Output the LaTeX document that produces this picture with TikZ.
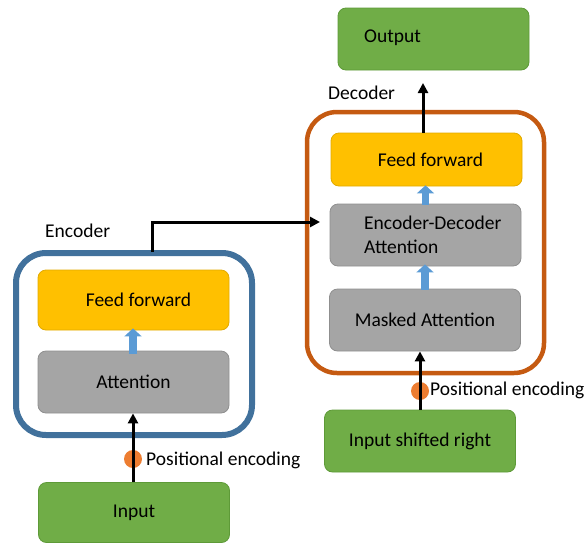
\documentclass[tikz,border=0pt]{standalone}
\usepackage{fontspec}
\setmainfont{Carlito}
\usetikzlibrary{arrows.meta}
\definecolor{ffyellow}{HTML}{FFC000}
\definecolor{ffedge}{HTML}{E2AA00}
\definecolor{attgray}{HTML}{A5A5A5}
\definecolor{attedge}{HTML}{8F8F8F}
\definecolor{iogreen}{HTML}{70AD47}
\definecolor{ioedge}{HTML}{5E9A38}
\definecolor{encblue}{HTML}{41719C}
\definecolor{decorange}{HTML}{C55A11}
\definecolor{posdot}{HTML}{ED7D31}
\definecolor{flowblue}{HTML}{5B9BD5}
\tikzset{
  every node/.style={font=\fontsize{19.5}{24}\selectfont, text=black},
  block/.style={rounded corners=8pt, line width=0.8pt, minimum width=191pt, minimum height=62pt, inner sep=0pt},
  ffbox/.style={block, fill=ffyellow, draw=ffedge},
  attbox/.style={block, fill=attgray, draw=attedge},
  iobox/.style={block, fill=iogreen, draw=ioedge},
  stack/.style={rounded corners=30pt, fill=none},
  flow/.style={draw=black, line width=3pt, -{Triangle[length=10pt,width=10pt]}},
  fat/.style={draw=flowblue, line width=7.5pt, -{Triangle[length=8pt,width=17pt]}},
  pdot/.style={circle, fill=posdot, minimum size=18pt, inner sep=0pt},
  caption/.style={anchor=west, inner sep=0pt}
}
\begin{document}
\begin{tikzpicture}[x=1pt, y=-1pt]
\useasboundingbox (0,0) rectangle (586,544);

% outer stacks
\draw[stack, draw=encblue, line width=6pt] (16,253) rectangle (252,435);
\draw[stack, draw=decorange, line width=4.5pt] (307,112) rectangle (544,373);
\node[caption] (enclabel) at (45,231) {Encoder};
\node[caption] (declabel) at (328,93) {Decoder};

% encoder blocks
\node[ffbox, minimum height=60pt] (encff) at (133.5,300) {\hspace{10pt}Feed forward};
\node[attbox] (encatt) at (133.5,382) {Attention};
\node[iobox, minimum height=60pt] (input) at (134,512.5) {Input\hspace{10pt}};

% decoder blocks
\node[iobox] (output) at (433.5,39) {};
\node[caption] (outtext) at (364,38) {Output};
\node[ffbox, minimum height=53pt] (decff) at (426.5,159.5) {\hspace{8pt}Feed forward};
\node[attbox] (encdec) at (425.5,235) {};
\node[caption, align=left] (encdectext) at (364,235) {Encoder-Decoder\\Attention};
\node[attbox] (masked) at (425,320) {Masked Attention};
\node[iobox] (shifted) at (420,441) {Input shifted right\hspace{10pt}};

% positional encoding points
\node[pdot] (pe1) at (133,459) {};
\node[caption] (pe1text) at (146,460) {Positional encoding};
\node[pdot] (pe2) at (420,391) {};
\node[caption] (pe2text) at (430,390) {Positional encoding};

% main flow
\draw[flow] (input.north -| pe1) -- (encatt.south -| pe1);
\draw[flow] (shifted.north) -- (masked.south -| shifted);
\coordinate (encout) at (152,252);
\coordinate (bend) at (152,222);
\coordinate (crossin) at (320,222);
\draw[flow] (encout) -- (bend) -- (crossin);
\coordinate (decout) at (423,83);
\draw[flow] (decff.north -| decout) -- (decout);

% internal flow
\draw[fat] ([yshift=-3pt]encatt.north -| 133,0) -- ([yshift=2pt]encff.south -| 133,0);
\draw[fat] ([yshift=-1pt]encdec.north) -- ([yshift=1pt]decff.south -| encdec);
\draw[fat] ([yshift=-1pt]masked.north) -- ([yshift=2pt]encdec.south -| masked);
\end{tikzpicture}
\end{document}
